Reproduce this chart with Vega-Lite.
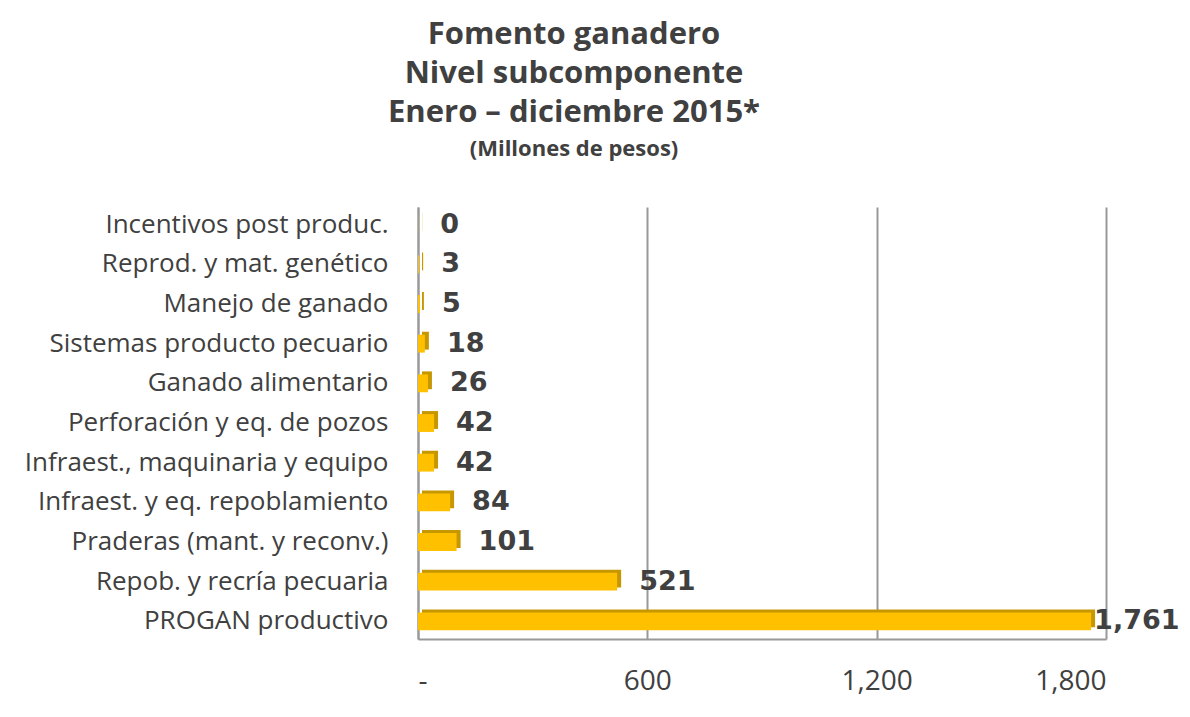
{
  "$schema": "https://vega.github.io/schema/vega-lite/v6.json",
  "autosize": {"type": "none"},
  "width": 688,
  "height": 432,
  "padding": {"left": 418, "top": 207, "right": 84, "bottom": 78},
  "background": "white",
  "config": {"view": {"stroke": null}, "font": "Open Sans"},
  "title": {
    "text": ["Fomento ganadero", "Nivel subcomponente", "Enero – diciembre 2015*"],
    "subtitle": "(Millones de pesos)",
    "anchor": "start",
    "align": "center",
    "frame": "group",
    "dx": 156,
    "offset": 46,
    "font": "Open Sans",
    "fontSize": 31,
    "fontWeight": "bold",
    "color": "#404040",
    "lineHeight": 39,
    "subtitleFont": "Open Sans",
    "subtitleFontSize": 22,
    "subtitleFontWeight": "bold",
    "subtitleColor": "#404040",
    "subtitlePadding": 10
  },
  "data": {
    "values": [
      {"cat": "Incentivos post produc.", "v": 0.4, "lbl": "0"},
      {"cat": "Reprod. y mat. genético", "v": 3, "lbl": "3"},
      {"cat": "Manejo de ganado", "v": 5, "lbl": "5"},
      {"cat": "Sistemas producto pecuario", "v": 18, "lbl": "18"},
      {"cat": "Ganado alimentario", "v": 26, "lbl": "26"},
      {"cat": "Perforación y eq. de pozos", "v": 42, "lbl": "42"},
      {"cat": "Infraest., maquinaria y equipo", "v": 42, "lbl": "42"},
      {"cat": "Infraest. y eq. repoblamiento", "v": 84, "lbl": "84"},
      {"cat": "Praderas (mant. y reconv.)", "v": 101, "lbl": "101"},
      {"cat": "Repob. y recría pecuaria", "v": 521, "lbl": "521"},
      {"cat": "PROGAN productivo", "v": 1761, "lbl": "1,761"}
    ]
  },
  "encoding": {
    "y": {
      "field": "cat", "type": "nominal", "sort": null,
      "scale": {"paddingInner": 0.55, "paddingOuter": 0.22},
      "axis": {
        "title": null, "ticks": false, "domain": true, "domainColor": "#999999", "domainWidth": 2,
        "labelFont": "Open Sans", "labelFontSize": 26, "labelColor": "#404040",
        "labelPadding": 30, "labelLimit": 420
      }
    },
    "x": {
      "field": "v", "type": "quantitative",
      "scale": {"domain": [0, 1800]},
      "axis": {
        "title": null, "values": [0, 600, 1200, 1800],
        "labelExpr": "datum.value === 0 ? '-' : format(datum.value, ',')",
        "grid": true, "gridColor": "#999999", "gridWidth": 2,
        "ticks": false, "domain": true, "domainColor": "#999999", "domainWidth": 2,
        "labelFont": "Open Sans", "labelFontSize": 28, "labelColor": "#404040",
        "labelPadding": 28
      }
    }
  },
  "layer": [
    {
      "mark": {"type": "bar", "color": "#C79700", "xOffset": 4, "yOffset": -3, "orient": "horizontal"}
    },
    {
      "mark": {"type": "bar", "color": "#FFC000", "orient": "horizontal"}
    },
    {
      "transform": [{"filter": "datum.v < 1000"}],
      "mark": {"type": "text", "align": "left", "dx": 22, "font": "DejaVu Sans", "fontSize": 27, "fontWeight": "bold", "color": "#404040"},
      "encoding": {"text": {"field": "lbl"}}
    },
    {
      "transform": [{"filter": "datum.v >= 1000"}],
      "mark": {"type": "text", "align": "left", "dx": 3, "font": "DejaVu Sans", "fontSize": 27, "fontWeight": "bold", "color": "#404040"},
      "encoding": {"text": {"field": "lbl"}}
    }
  ]
}
